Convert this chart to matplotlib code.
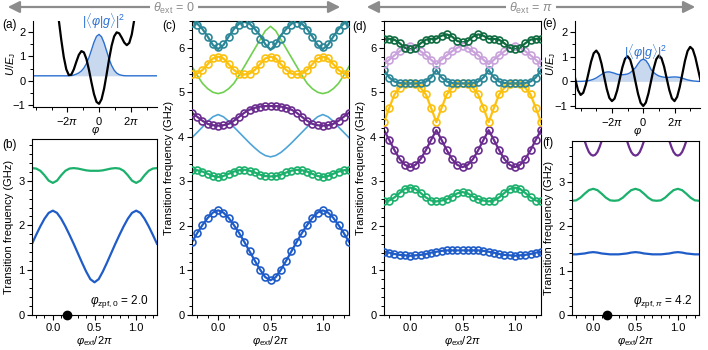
import matplotlib.pyplot as plt
import numpy as np
from matplotlib.ticker import MultipleLocator
from matplotlib.patches import FancyArrowPatch

plt.rcParams['font.family'] = ['Liberation Sans', 'DejaVu Sans']
plt.rcParams['font.size'] = 8
plt.rcParams['mathtext.fontset'] = 'custom'
plt.rcParams['mathtext.rm'] = 'Liberation Sans'
plt.rcParams['mathtext.it'] = 'Liberation Sans:italic'
plt.rcParams['mathtext.bf'] = 'Liberation Sans:bold'
plt.rcParams['axes.linewidth'] = 0.8

# colours
BLUE = '#1f5cc8'
GREEN = '#1bb06c'
PURPLE = '#6a2c8e'
YELLOW = '#fcc10f'
TEAL = '#2b8797'
LGREEN = '#6fd04f'
LBLUE = '#4ea4d8'
DGREEN = '#0e6b3f'
LAVENDER = '#c9a2dc'
WF_LINE = '#2a6fd0'
WF_FILL = '#c8d8ef'
GREY = '#8c8c8c'

# ---- (a) potential and ground state, theta_ext = 0
phi_a = np.arange(-8.5, 7.51, 0.5)
pot_a = [3.33, 2.515, 1.691, 0.976, 0.471, 0.230, 0.249, 0.466, 0.778, 1.064, 1.214,
         1.16, 0.889, 0.446, -0.073, -0.550, -0.870, -0.95, -0.760, -0.330, 0.257,
         0.886, 1.439, 1.82, 1.984, 1.944, 1.768, 1.566, 1.459, 1.55, 1.901, 2.516, 3.341]
phi_wf_a = [-14, -6.5, -6, -5.5, -5, -4.5, -4, -3.5, -3, -2.5, -2, -1.5, -1, -0.5, 0,
            0.5, 1, 1.5, 2, 2.5, 3, 3.5, 4, 4.5, 5, 5.5, 6, 12]
wf_a = [0.2, 0.2, 0.2, 0.21, 0.23, 0.27, 0.32, 0.40, 0.52, 0.70, 0.95, 1.26, 1.58, 1.82,
        1.9, 1.8, 1.55, 1.22, 0.89, 0.62, 0.43, 0.31, 0.25, 0.22, 0.205, 0.2, 0.2, 0.2]
wf_base_a = 0.2

# ---- (e) potential and ground state, theta_ext = pi  (grid in units of pi/6)
k_e = np.arange(-27, 23)
pot_e = [0.62, 0.06, -0.36, -0.55, -0.46, -0.13, 0.33, 0.80, 1.14, 1.25, 1.10, 0.72,
         0.2, -0.3, -0.67, -0.8, -0.70, -0.37, 0.1, 0.57, 0.91, 1.02, 0.88, 0.51, 0.0,
         -0.5, -0.87, -1.0, -0.86, -0.49, 0.01, 0.52, 0.90, 1.05, 0.94, 0.60, 0.12,
         -0.35, -0.69, -0.8, -0.63, -0.23, 0.3, 0.83, 1.23, 1.4, 1.30, 0.97, 0.5, 0.03]
wf_e = [0, 0, 0, 0, 0.005, 0.015, 0.03, 0.055, 0.09, 0.14, 0.21, 0.28, 0.35, 0.38,
        0.385, 0.36, 0.33, 0.29, 0.27, 0.27, 0.28, 0.3, 0.35, 0.45, 0.55, 0.71, 0.85,
        0.9, 0.85, 0.7, 0.48, 0.36, 0.28, 0.22, 0.19, 0.17, 0.16, 0.165, 0.175, 0.18,
        0.175, 0.16, 0.13, 0.095, 0.06, 0.04, 0.02, 0.01, 0, 0]

# ---- spectra vs flux, phi_ext/2pi
phi_ext = np.round(np.arange(-0.25, 1.2501, 0.05), 3)

b_f01 = [1.59, 1.79, 1.98, 2.15, 2.28, 2.33, 2.28, 2.15, 1.98, 1.79, 1.59, 1.38, 1.17, 0.97,
         0.80, 0.73, 0.80, 0.97, 1.17, 1.38, 1.59, 1.79, 1.98, 2.15, 2.28, 2.33, 2.28, 2.15,
         1.98, 1.79, 1.59]
b_f02 = [3.28, 3.27, 3.22, 3.12, 3.00, 2.95, 3.00, 3.12, 3.22, 3.27, 3.28, 3.27, 3.25, 3.23,
         3.22, 3.22, 3.22, 3.23, 3.25, 3.27, 3.28, 3.27, 3.22, 3.12, 3.00, 2.95, 3.00, 3.12,
         3.22, 3.27, 3.28]

c_blue = [1.64, 1.84, 2.02, 2.18, 2.30, 2.35, 2.30, 2.18, 2.02, 1.84, 1.64, 1.43, 1.22, 1.02,
          0.85, 0.78, 0.85, 1.02, 1.22, 1.43, 1.64, 1.84, 2.02, 2.18, 2.30, 2.35, 2.30, 2.18,
          2.02, 1.84, 1.64]
c_green = [3.26, 3.25, 3.22, 3.17, 3.12, 3.10, 3.12, 3.17, 3.22, 3.25, 3.26, 3.24, 3.20, 3.15,
           3.12, 3.11, 3.12, 3.15, 3.20, 3.24, 3.26, 3.25, 3.22, 3.17, 3.12, 3.10, 3.12, 3.17,
           3.22, 3.25, 3.26]
c_lblue = [3.98, 4.10, 4.22, 4.35, 4.45, 4.50, 4.45, 4.35, 4.22, 4.10, 3.98, 3.86, 3.75, 3.65,
           3.58, 3.55, 3.58, 3.65, 3.75, 3.86, 3.98, 4.10, 4.22, 4.35, 4.45, 4.50, 4.45, 4.35,
           4.22, 4.10, 3.98]
c_purple = [4.54, 4.45, 4.36, 4.29, 4.26, 4.25, 4.26, 4.29, 4.36, 4.45, 4.54, 4.61, 4.65, 4.68,
            4.69, 4.69, 4.69, 4.68, 4.65, 4.61, 4.54, 4.45, 4.36, 4.29, 4.26, 4.25, 4.26, 4.29,
            4.36, 4.45, 4.54]
c_lgreen = [5.58, 5.38, 5.20, 5.08, 5.00, 4.97, 5.00, 5.08, 5.20, 5.38, 5.58, 5.78, 5.98, 6.18,
            6.38, 6.48, 6.38, 6.18, 5.98, 5.78, 5.58, 5.38, 5.20, 5.08, 5.00, 4.97, 5.00, 5.08,
            5.20, 5.38, 5.58]
c_yellow = [5.40, 5.42, 5.50, 5.63, 5.76, 5.80, 5.76, 5.63, 5.50, 5.42, 5.40, 5.42, 5.50, 5.63,
            5.76, 5.80, 5.76, 5.63, 5.50, 5.42, 5.40, 5.42, 5.50, 5.63, 5.76, 5.80, 5.76, 5.63,
            5.50, 5.42, 5.40]
c_teal_fit = [6.58, 6.54, 6.42, 6.25, 6.06, 5.97, 6.06, 6.25, 6.42, 6.54, 6.58, 6.54, 6.42, 6.28,
              6.08, 5.95, 6.08, 6.28, 6.42, 6.54, 6.58, 6.54, 6.42, 6.25, 6.06, 5.97, 6.06, 6.25,
              6.42, 6.54, 6.58]
c_teal_meas = [6.56, 6.52, 6.40, 6.24, 6.08, 6.02, 6.08, 6.24, 6.40, 6.52, 6.56, 6.52, 6.40, 6.20,
               6.10, 6.07, 6.10, 6.20, 6.40, 6.52, 6.56, 6.52, 6.40, 6.24, 6.08, 6.02, 6.08, 6.24,
               6.40, 6.52, 6.56]

d_blue = [1.42, 1.40, 1.37, 1.35, 1.34, 1.33, 1.34, 1.35, 1.37, 1.40, 1.42, 1.44, 1.45, 1.45,
          1.45, 1.45, 1.45, 1.45, 1.45, 1.44, 1.42, 1.40, 1.37, 1.35, 1.34, 1.33, 1.34, 1.35,
          1.37, 1.40, 1.42]
d_green = [2.55, 2.57, 2.64, 2.74, 2.83, 2.86, 2.83, 2.74, 2.64, 2.57, 2.55, 2.57, 2.60, 2.66,
           2.73, 2.76, 2.73, 2.66, 2.60, 2.57, 2.55, 2.57, 2.64, 2.74, 2.83, 2.86, 2.83, 2.74,
           2.64, 2.57, 2.55]
d_purple = [4.15, 3.93, 3.70, 3.50, 3.37, 3.32, 3.37, 3.50, 3.70, 3.93, 4.15, 3.93, 3.70, 3.50,
            3.37, 3.32, 3.37, 3.50, 3.70, 3.93, 4.15, 3.93, 3.70, 3.50, 3.37, 3.32, 3.37, 3.50,
            3.70, 3.93, 4.15]
d_yellow = [4.33, 4.65, 4.95, 5.10, 5.18, 5.20, 5.18, 5.10, 4.95, 4.65, 4.33, 4.65, 4.95, 5.10,
            5.18, 5.20, 5.18, 5.10, 4.95, 4.65, 4.33, 4.65, 4.95, 5.10, 5.18, 5.20, 5.18, 5.10,
            4.95, 4.65, 4.33]
d_teal = [5.50, 5.33, 5.24, 5.21, 5.20, 5.20, 5.20, 5.21, 5.24, 5.33, 5.50, 5.33, 5.24, 5.21,
          5.20, 5.20, 5.20, 5.21, 5.24, 5.33, 5.50, 5.33, 5.24, 5.21, 5.20, 5.20, 5.20, 5.21,
          5.24, 5.33, 5.50]
d_lavender = [5.63, 5.73, 5.83, 5.92, 6.00, 6.05, 6.00, 5.92, 5.83, 5.73, 5.63, 5.73, 5.83, 5.92,
              6.00, 6.05, 6.00, 5.92, 5.83, 5.73, 5.63, 5.73, 5.83, 5.92, 6.00, 6.05, 6.00, 5.92,
              5.83, 5.73, 5.63]
d_dgreen = [6.20, 6.20, 6.18, 6.10, 6.00, 5.97, 6.00, 6.10, 6.18, 6.20, 6.20, 6.27, 6.30, 6.25,
            6.15, 6.12, 6.15, 6.25, 6.30, 6.27, 6.20, 6.20, 6.18, 6.10, 6.00, 5.97, 6.00, 6.10,
            6.18, 6.20, 6.20]

f_f01 = [1.37, 1.37, 1.38, 1.39, 1.41, 1.42, 1.41, 1.39, 1.38, 1.37, 1.37, 1.37, 1.38, 1.39,
         1.41, 1.42, 1.41, 1.39, 1.38, 1.37, 1.37, 1.37, 1.38, 1.39, 1.41, 1.42, 1.41, 1.39,
         1.38, 1.37, 1.37]
f_f02 = [2.58, 2.59, 2.65, 2.74, 2.82, 2.85, 2.82, 2.74, 2.65, 2.59, 2.58, 2.59, 2.65, 2.74,
         2.82, 2.85, 2.82, 2.74, 2.65, 2.59, 2.58, 2.59, 2.65, 2.74, 2.82, 2.85, 2.82, 2.74,
         2.65, 2.59, 2.58]
phi_ext_fine = np.round(np.arange(-0.25, 1.2501, 0.025), 3)
f_f03 = [4.68, 4.65, 4.58, 4.45, 4.28, 4.10, 3.93, 3.79, 3.68, 3.62, 3.60,
         3.62, 3.68, 3.79, 3.93, 4.10, 4.28, 4.45, 4.58, 4.65, 4.68,
         4.65, 4.58, 4.45, 4.28, 4.10, 3.93, 3.79, 3.68, 3.62, 3.60,
         3.62, 3.68, 3.79, 3.93, 4.10, 4.28, 4.45, 4.58, 4.65, 4.68,
         4.65, 4.58, 4.45, 4.28, 4.10, 3.93, 3.79, 3.68, 3.62, 3.60,
         3.62, 3.68, 3.79, 3.93, 4.10, 4.28, 4.45, 4.58, 4.65, 4.68]

flux_dot = 1 / 6

W, H = 708, 350
fig = plt.figure(figsize=(W / 100, H / 100), dpi=100)


def box(l, t, r, b):
    # pixel box -> figure fraction
    return [l / W, 1 - b / H, (r - l) / W, (b - t) / H]


def style_pot(ax, xlim, label_x):
    ax.set_xlim(*xlim)
    ax.set_ylim(-1.08, 2.45)
    ax.spines['top'].set_visible(False)
    ax.spines['right'].set_visible(False)
    ax.set_xticks([-2 * np.pi, 0, 2 * np.pi])
    ax.set_xticklabels([r'$-2\pi$', r'$0$', r'$2\pi$'])
    ax.xaxis.set_minor_locator(MultipleLocator(np.pi))
    ax.set_yticks([-1, 0, 1, 2])
    ax.yaxis.set_minor_locator(MultipleLocator(0.5))
    ax.tick_params(which='major', length=3.5, width=0.8, pad=2)
    ax.tick_params(which='minor', length=2, width=0.7)
    ax.set_xlabel(r'$\varphi$', labelpad=-1)
    ax.set_ylabel(r'$U/E_\mathrm{J}$')
    ax.yaxis.set_label_coords(label_x, 0.5)


def style_freq(ax, ymax):
    ax.set_xlim(-0.25, 1.25)
    ax.set_ylim(0, ymax)
    ax.set_xticks([0, 0.5, 1.0])
    ax.set_xticklabels(['0.0', '0.5', '1.0'])
    ax.xaxis.set_minor_locator(MultipleLocator(0.1))
    ax.yaxis.set_major_locator(MultipleLocator(1))
    ax.yaxis.set_minor_locator(MultipleLocator(0.2))
    ax.tick_params(which='major', length=3.5, width=0.8, pad=2)
    ax.tick_params(which='minor', length=2, width=0.7)
    ax.set_xlabel(r'$\varphi_\mathrm{ext}/2\pi$', labelpad=1)
    ax.set_ylabel('Transition frequency (GHz)', labelpad=3)


def fit_and_data(ax, y, color, y_meas=None):
    ax.plot(phi_ext, y, color=color, lw=1.6, zorder=2)
    ax.plot(phi_ext, y if y_meas is None else y_meas, 'o', mfc='none', mec=color,
            mew=1.2, ms=5.0, zorder=3)


# (a)
ax_a = fig.add_axes(box(33, 21, 157, 107))
ax_a.fill_between(phi_wf_a, wf_base_a, wf_a, color=WF_FILL, lw=0)
ax_a.plot(phi_wf_a, wf_a, color=WF_LINE, lw=1.0)
ax_a.plot(phi_a, pot_a, color='k', lw=1.6)
style_pot(ax_a, (-13.1, 11.5), -0.125)
fig.text(104 / W, 1 - 21 / H, r'$|\langle\varphi|g\rangle|^2$', color=WF_LINE,
         ha='center', va='center', fontsize=9)

# (e)
phi_e = k_e * np.pi / 6
ax_e = fig.add_axes(box(575, 21, 700, 108))
ax_e.fill_between(phi_e, 0, wf_e, color=WF_FILL, lw=0)
ax_e.plot(phi_e, wf_e, color=WF_LINE, lw=1.0)
ax_e.plot(phi_e, pot_e, color='k', lw=1.6)
style_pot(ax_e, (-13.7, 11.4), -0.14)
fig.text(646 / W, 1 - 52 / H, r'$|\langle\varphi|g\rangle|^2$', color=WF_LINE,
         ha='center', va='center', fontsize=9)

# (b)
ax_b = fig.add_axes(box(32, 139, 157, 315))
ax_b.plot(phi_ext, b_f01, color=BLUE, lw=1.6)
ax_b.plot(phi_ext, b_f02, color=GREEN, lw=1.6)
ax_b.plot(flux_dot, 0, 'o', color='k', ms=6, clip_on=False, zorder=5)
style_freq(ax_b, 3.93)
ax_b.text(0.93, 0.075, r'$\varphi_\mathrm{zpf,0}$ = 2.0', transform=ax_b.transAxes,
          ha='right', va='center', fontsize=8.5)

# (c)
ax_c = fig.add_axes(box(192, 21, 349, 315))
ax_c.plot(phi_ext, c_lblue, color=LBLUE, lw=1.2, zorder=1)
ax_c.plot(phi_ext, c_lgreen, color=LGREEN, lw=1.2, zorder=1)
fit_and_data(ax_c, c_blue, BLUE)
fit_and_data(ax_c, c_green, GREEN)
fit_and_data(ax_c, c_purple, PURPLE)
fit_and_data(ax_c, c_yellow, YELLOW)
fit_and_data(ax_c, c_teal_fit, TEAL, c_teal_meas)
style_freq(ax_c, 6.6)

# (d)
ax_d = fig.add_axes(box(384, 21, 541, 315))
fit_and_data(ax_d, d_blue, BLUE)
fit_and_data(ax_d, d_green, GREEN)
fit_and_data(ax_d, d_purple, PURPLE)
fit_and_data(ax_d, d_yellow, YELLOW)
fit_and_data(ax_d, d_teal, TEAL)
fit_and_data(ax_d, d_lavender, LAVENDER)
fit_and_data(ax_d, d_dgreen, DGREEN)
style_freq(ax_d, 6.6)

# (f)
ax_f = fig.add_axes(box(572, 141, 699, 315))
ax_f.plot(phi_ext, f_f01, color=BLUE, lw=1.6)
ax_f.plot(phi_ext, f_f02, color=GREEN, lw=1.6)
ax_f.plot(phi_ext_fine, f_f03, color=PURPLE, lw=1.6)
ax_f.plot(flux_dot, 0, 'o', color='k', ms=6, clip_on=False, zorder=5)
style_freq(ax_f, 3.93)
ax_f.text(0.95, 0.075, r'$\varphi_{\mathrm{zpf},\pi}$ = 4.2', transform=ax_f.transAxes,
          ha='right', va='center', fontsize=8.5)

# panel letters
for lab, x, y in [('(a)', 2, 25), ('(b)', 2, 145), ('(c)', 162, 26),
                  ('(d)', 352, 27), ('(e)', 542, 24), ('(f)', 542, 143)]:
    fig.text(x / W, 1 - y / H, lab, ha='left', va='center', fontsize=8.5)

# theta_ext arrows at the top
for x0, x1, label in [(5, 343, r'$\theta_\mathrm{ext}$ = 0'), (364, 698, r'$\theta_\mathrm{ext}$ = $\pi$')]:
    arr = FancyArrowPatch((x0 / W, 1 - 7 / H), (x1 / W, 1 - 7 / H), transform=fig.transFigure,
                          arrowstyle='<|-|>,head_length=0.7,head_width=0.35', mutation_scale=10,
                          color=GREY, lw=1.6)
    fig.patches.append(arr)
    fig.text((x0 + x1) / 2 / W, 1 - 8 / H, label, color=GREY, ha='center', va='center',
             fontsize=9, bbox=dict(facecolor='white', edgecolor='none', pad=2))

fig.savefig('out.png', dpi=100)
